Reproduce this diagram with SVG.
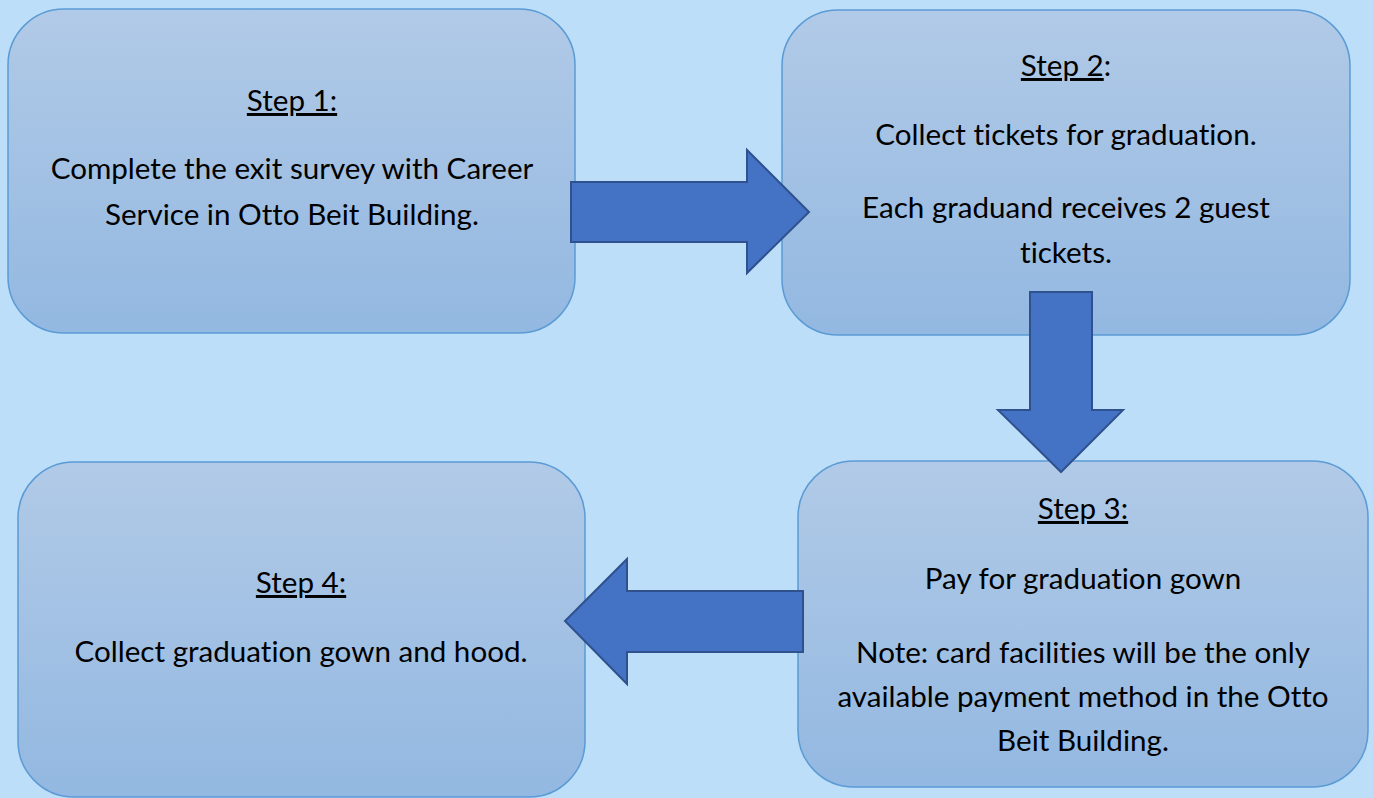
<svg xmlns="http://www.w3.org/2000/svg" width="1373" height="798" viewBox="0 0 1373 798">
<defs>
<linearGradient id="bg" x1="0" y1="0" x2="0" y2="1">
<stop offset="0" stop-color="#B1CAE7"/>
<stop offset="1" stop-color="#93B8E1"/>
</linearGradient>
<style>
.box{fill:url(#bg);stroke:#5B9BD5;stroke-width:1.5}
.arr{fill:#4472C4;stroke:#2F528F;stroke-width:2;stroke-linejoin:miter}
text{font-family:Lato,"Liberation Sans",sans-serif;font-size:29.6px;fill:#000;text-anchor:middle;font-variant-ligatures:none}
.u{text-decoration:underline}
</style>
</defs>
<rect width="1373" height="798" fill="#BDDEF8"/>
<g id="step1">
<rect class="box" x="8" y="9" width="567" height="324" rx="56"/>
<text x="292" y="111" class="u">Step 1:</text>
<text x="292" y="179">Complete the exit survey with Career</text>
<text x="292" y="225">Service in Otto Beit Building.</text>
</g>
<g id="step2">
<rect class="box" x="782" y="10" width="568" height="325" rx="56"/>
<text x="1066" y="76"><tspan class="u">Step 2</tspan>:</text>
<text x="1066" y="145">Collect tickets for graduation.</text>
<text x="1066" y="218">Each graduand receives 2 guest</text>
<text x="1066" y="263">tickets.</text>
</g>
<g id="step3">
<rect class="box" x="798" y="461" width="570" height="326" rx="56"/>
<text x="1083" y="519" class="u">Step 3:</text>
<text x="1083" y="589">Pay for graduation gown</text>
<text x="1083" y="663">Note: card facilities will be the only</text>
<text x="1083" y="707">available payment method in the Otto</text>
<text x="1083" y="751">Beit Building.</text>
</g>
<g id="step4">
<rect class="box" x="18" y="462" width="567" height="335" rx="56"/>
<text x="301" y="593" class="u">Step 4:</text>
<text x="301" y="662">Collect graduation gown and hood.</text>
</g>
<g id="connectors">
<polygon class="arr" points="571,182 747,182 747,150 809,212 747,273 747,242 571,242"/>
<polygon class="arr" points="1030,292 1092,292 1092,410 1123,410 1061,472 998,410 1030,410"/>
<polygon class="arr" points="803,591 627,591 627,559 565,621 627,684 627,652 803,652"/>
</g>
</svg>
